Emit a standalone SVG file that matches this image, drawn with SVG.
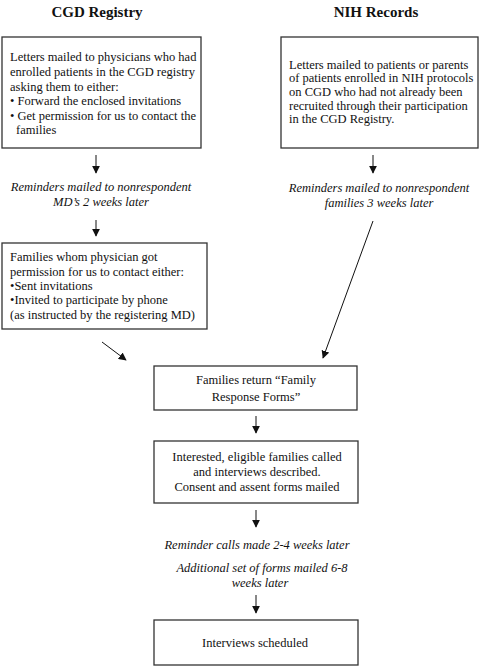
<svg xmlns="http://www.w3.org/2000/svg" width="480" height="667" viewBox="0 0 480 667" font-family="'Liberation Serif', 'DejaVu Serif', serif">
<style>
text{font-family:'Liberation Serif','DejaVu Serif',serif;font-size:12.5px;fill:#111}
.t{font-weight:bold;font-size:15px;text-anchor:middle}
.i{font-style:italic;text-anchor:middle}
.c{text-anchor:middle}
.box{fill:#fff;stroke:#333;stroke-width:1.3}
.ar{stroke:#111;stroke-width:1;fill:none;marker-end:url(#ah)}
</style>
<defs>
<marker id="ah" viewBox="0 0 10 10" refX="9" refY="5" markerWidth="8" markerHeight="8" markerUnits="userSpaceOnUse" orient="auto">
<path d="M0,0 L10,5 L0,10 z" fill="#111"/>
</marker>
</defs>
<rect width="480" height="667" fill="#fff"/>
<text class="t" x="97" y="17">CGD Registry</text>
<text class="t" x="376" y="17">NIH Records</text>

<g id="n1">
<rect class="box" x="2" y="37" width="199" height="111"/>
<text x="10" y="61">Letters mailed to physicians who had</text>
<text x="10" y="76">enrolled patients in the CGD registry</text>
<text x="10" y="91">asking them to either:</text>
<text x="10" y="105">• Forward the enclosed invitations</text>
<text x="10" y="120">• Get permission for us to contact the</text>
<text x="16" y="134">families</text>
</g>

<g id="n2">
<rect class="box" x="281" y="37" width="197" height="111"/>
<text x="289" y="69">Letters mailed to patients or parents</text>
<text x="289" y="82">of patients enrolled in NIH protocols</text>
<text x="289" y="96">on CGD who had not already been</text>
<text x="289" y="110">recruited through their participation</text>
<text x="289" y="123">in the CGD Registry.</text>
</g>

<g id="n3">
<text class="i" x="101" y="191">Reminders mailed to nonrespondent</text>
<text class="i" x="101" y="206">MD’s 2 weeks later</text>
</g>

<g id="n4">
<text class="i" x="379" y="192">Reminders mailed to nonrespondent</text>
<text class="i" x="379" y="207">families 3 weeks later</text>
</g>

<g id="n5">
<rect class="box" x="2" y="243" width="205" height="86"/>
<text x="10" y="261">Families whom physician got</text>
<text x="10" y="276">permission for us to contact either:</text>
<text x="10" y="290">•Sent invitations</text>
<text x="10" y="304">•Invited to participate by phone</text>
<text x="10" y="319">(as instructed by the registering MD)</text>
</g>

<g id="n6">
<rect class="box" x="154" y="366" width="203" height="44"/>
<text class="c" x="256" y="384">Families return “Family</text>
<text class="c" x="256" y="401">Response Forms”</text>
</g>

<g id="n7">
<rect class="box" x="154" y="441" width="204" height="62"/>
<text class="c" x="257" y="461">Interested, eligible families called</text>
<text class="c" x="257" y="476">and interviews described.</text>
<text class="c" x="257" y="491">Consent and assent forms mailed</text>
</g>

<g id="n8">
<text class="i" x="257" y="549">Reminder calls made 2-4 weeks later</text>
<text class="i" x="262" y="572">Additional set of forms mailed 6-8</text>
<text class="i" x="260" y="587">weeks later</text>
</g>

<g id="n9">
<rect class="box" x="154" y="620" width="204" height="45"/>
<text class="c" x="255" y="647">Interviews scheduled</text>
</g>

<g id="connectors">
<line class="ar" x1="96" y1="155" x2="96" y2="173"/>
<line class="ar" x1="96" y1="220" x2="96" y2="236"/>
<line class="ar" x1="373" y1="155" x2="373" y2="173"/>
<line class="ar" x1="373" y1="221" x2="323" y2="358"/>
<line class="ar" x1="102" y1="342" x2="126" y2="360"/>
<line class="ar" x1="256" y1="416" x2="256" y2="433"/>
<line class="ar" x1="256" y1="510" x2="256" y2="527"/>
<line class="ar" x1="256" y1="595" x2="256" y2="613"/>
</g>
</svg>
